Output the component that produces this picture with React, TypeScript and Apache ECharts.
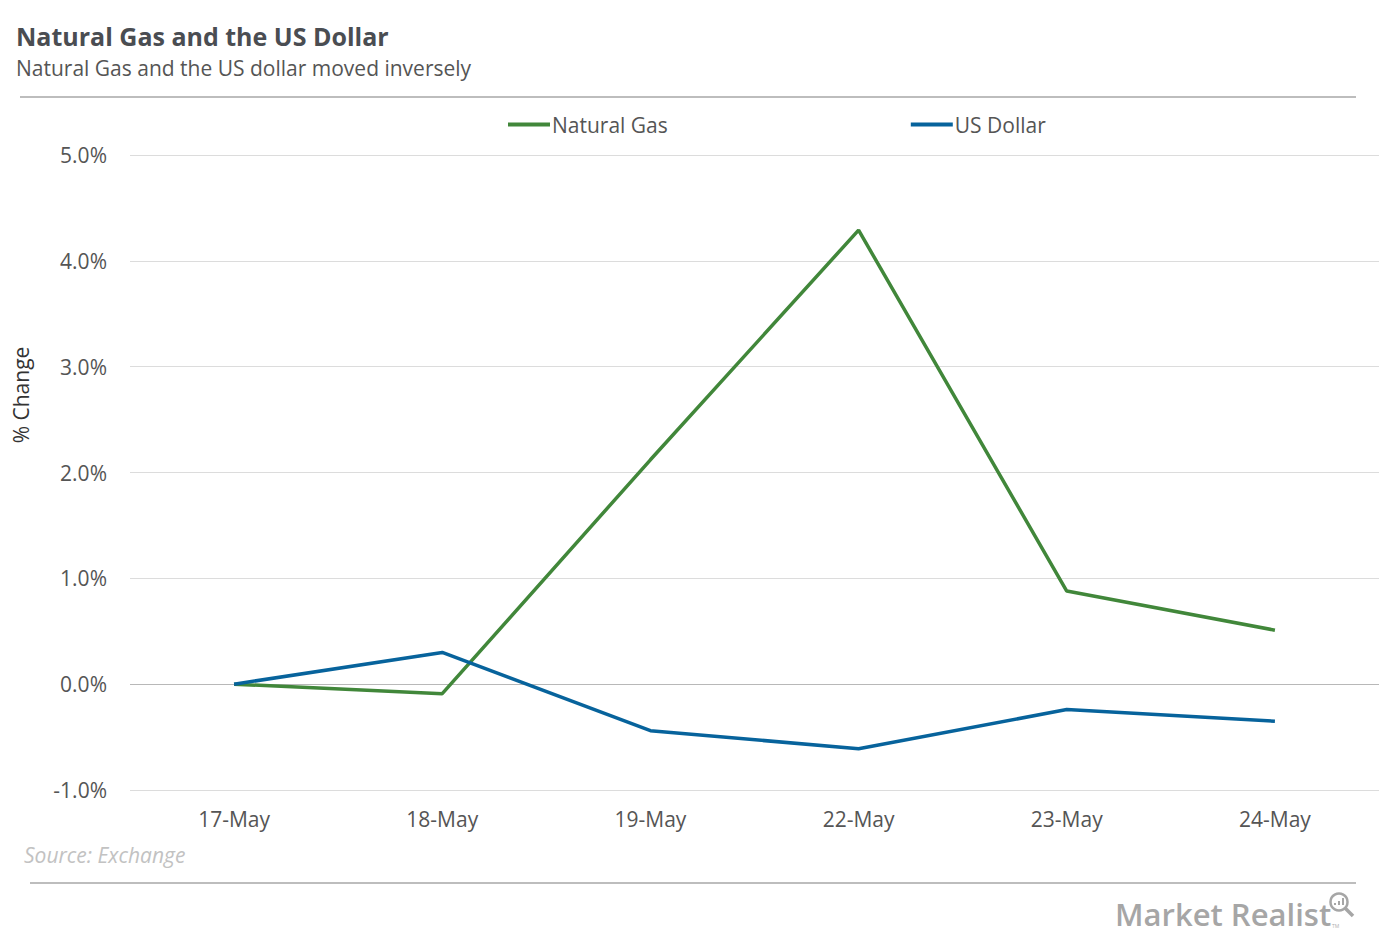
import React, { useEffect, useRef } from "react";
import * as echarts from "echarts";

const categories = ["17-May", "18-May", "19-May", "22-May", "23-May", "24-May"];
const naturalGas = [0.0, -0.09, 2.12, 4.29, 0.88, 0.51];
const usDollar = [0.0, 0.3, -0.44, -0.61, -0.24, -0.35];
const yTicks = { min: -1, max: 5, interval: 1 };

const FONT = "'Open Sans', 'Noto Sans', sans-serif";

export default function App() {
  const ref = useRef<HTMLDivElement>(null);
  useEffect(() => {
    const chart = echarts.init(ref.current!, null, { renderer: "svg" });
    chart.setOption({
      animation: false,
      backgroundColor: "#ffffff",
      textStyle: { fontFamily: FONT },
      title: [
        {
          text: "Natural Gas and the US Dollar",
          left: 11,
          top: 18,
          textStyle: { fontFamily: FONT, fontSize: 25, fontWeight: "bold", color: "#4a4d52" },
        },
        {
          text: "Natural Gas and the US dollar moved inversely",
          left: 11,
          top: 52,
          textStyle: { fontFamily: FONT, fontSize: 21, fontWeight: "normal", color: "#555555" },
        },
      ],
      legend: {
        left: 503,
        top: 109,
        itemGap: 243,
        itemWidth: 42,
        itemHeight: 4,
        icon: "rect",
        textStyle: { fontFamily: FONT, fontSize: 21, color: "#555555", padding: [0, 0, 0, -3] },
        data: ["Natural Gas", "US Dollar"],
      },
      grid: { left: 130, right: 5, top: 155, bottom: 151, containLabel: false },
      xAxis: {
        type: "category",
        data: categories,
        boundaryGap: true,
        axisLine: { show: false },
        axisTick: { show: false },
        axisLabel: { fontFamily: FONT, fontSize: 21, color: "#555555", margin: 18 },
      },
      yAxis: {
        type: "value",
        min: yTicks.min,
        max: yTicks.max,
        interval: yTicks.interval,
        axisLine: { show: false },
        axisTick: { show: false },
        axisLabel: {
          fontFamily: FONT,
          fontSize: 21,
          color: "#555555",
          margin: 23,
          formatter: (v: number) => v.toFixed(1) + "%",
        },
        splitLine: {
          lineStyle: {
            color: ["#dcdcdc", "#b8b8b8", "#dcdcdc", "#dcdcdc", "#dcdcdc", "#dcdcdc", "#dcdcdc"],
            width: 1,
          },
        },
      },
      series: [
        {
          name: "Natural Gas",
          type: "line",
          data: naturalGas,
          symbol: "none",
          lineStyle: { color: "#41873a", width: 3.5 },
          itemStyle: { color: "#41873a" },
        },
        {
          name: "US Dollar",
          type: "line",
          data: usDollar,
          symbol: "none",
          lineStyle: { color: "#07639c", width: 3.5 },
          itemStyle: { color: "#07639c" },
        },
      ],
      graphic: [
        {
          type: "line",
          shape: { x1: 20, y1: 97, x2: 1356, y2: 97 },
          style: { stroke: "#bdbdbd", lineWidth: 2 },
        },
        {
          type: "line",
          shape: { x1: 30, y1: 883, x2: 1356, y2: 883 },
          style: { stroke: "#bdbdbd", lineWidth: 2 },
        },
        {
          type: "text",
          x: 21,
          y: 395,
          rotation: Math.PI / 2,
          style: {
            text: "% Change",
            font: "21px " + FONT,
            fill: "#333333",
            align: "center",
            verticalAlign: "middle",
          },
        },
        {
          type: "text",
          left: 24,
          top: 844,
          style: {
            text: "Source: Exchange",
            font: "italic 21px " + FONT,
            fill: "#c2c2c2",
          },
        },
        {
          type: "text",
          left: 1115,
          top: 898,
          style: {
            text: "Market Realist",
            font: "600 31px " + FONT,
            fill: "#a6a6a6",
          },
        },
        {
          type: "text",
          left: 1332,
          top: 923,
          style: { text: "TM", font: "5px " + FONT, fill: "#b0b0b0" },
        },
        {
          type: "circle",
          shape: { cx: 1339, cy: 902, r: 8.5 },
          style: { stroke: "#a6a6a6", fill: "none", lineWidth: 2.5 },
        },
        {
          type: "line",
          shape: { x1: 1345, y1: 908, x2: 1353, y2: 916 },
          style: { stroke: "#a6a6a6", lineWidth: 3.5 },
        },
        { type: "rect", shape: { x: 1334, y: 903, width: 2, height: 2 }, style: { fill: "#a6a6a6" } },
        { type: "rect", shape: { x: 1338, y: 901, width: 2, height: 4 }, style: { fill: "#a6a6a6" } },
        { type: "rect", shape: { x: 1342, y: 898, width: 2, height: 7 }, style: { fill: "#a6a6a6" } },
      ],
    });
    return () => chart.dispose();
  }, []);
  return <div ref={ref} style={{ width: 1384, height: 941, position: "absolute", left: 0, top: 0 }} />;
}
